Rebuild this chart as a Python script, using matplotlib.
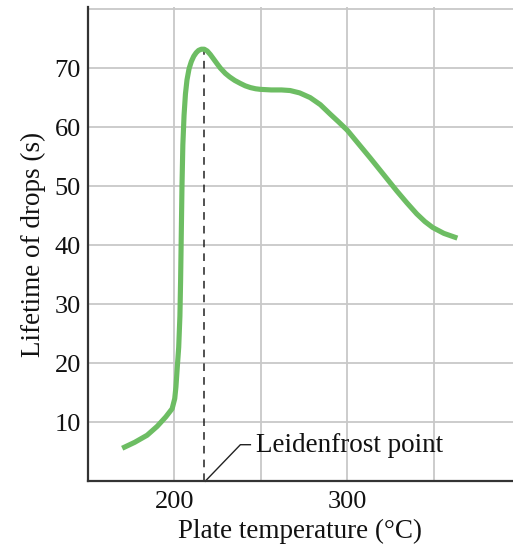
import matplotlib.pyplot as plt

# values
temp = [169.8, 177, 184.2, 190, 195, 198.7, 200.2, 200.9, 201.6, 202.5, 203.2, 203.6,
        204.0, 204.4, 204.9, 205.6, 206.4, 207.3, 208.5, 209.8, 211.2, 212.6, 214.0,
        215.6, 217.3, 219.0, 220.8, 222.8, 224.8, 226.6, 229.5, 232, 235, 238.2, 241,
        244, 247, 249.7, 256, 262, 267, 272.5, 278.6, 284.5, 290.2, 295, 300, 306.5,
        313.3, 321, 328.7, 334.5, 340.3, 345, 349.5, 356, 363.8]
lifetime = [5.6, 6.6, 7.8, 9.3, 10.9, 12.3, 14.0, 16.0, 19.0, 22.7, 28.0, 34.0,
            42.0, 50.0, 57.0, 62.0, 65.6, 68.0, 69.9, 71.1, 72.0, 72.6, 73.0, 73.2,
            73.2, 72.9, 72.3, 71.5, 70.7, 70.0, 69.1, 68.5, 67.9, 67.4, 67.0, 66.7,
            66.5, 66.4, 66.3, 66.3, 66.2, 65.8, 65.0, 63.8, 62.2, 60.9, 59.5, 57.2,
            54.8, 52.0, 49.2, 47.2, 45.3, 44.0, 43.0, 42.0, 41.2]

leiden_x = 217.3
leiden_y = 73.2

x_ticks = [200, 300]
y_ticks = [10, 20, 30, 40, 50, 60, 70]
x_grid = [200, 250, 300, 350]
y_grid = [10, 20, 30, 40, 50, 60, 70, 80]

plt.rcParams['font.family'] = ['Liberation Serif', 'DejaVu Serif']

fig = plt.figure(figsize=(5.13, 5.45), dpi=100)
ax = fig.add_axes([88 / 513, 63.7 / 545, 1 - 88 / 513, 474 / 545])

for gx in x_grid:
    ax.axvline(gx, color='#c8c8c8', lw=1.3, zorder=0)
for gy in y_grid:
    ax.axhline(gy, color='#c8c8c8', lw=1.3, zorder=0)

ax.plot(temp, lifetime, color='#6dbd63', lw=3.7, solid_capstyle='butt',
        solid_joinstyle='round', zorder=3)
ax.plot([leiden_x, leiden_x], [0, leiden_y], color='#222222', lw=1.1,
        dashes=(5, 4), zorder=2)

# leader line to the label
ax.plot([217.8, 238.2, 244], [0, 6.2, 6.2], color='#222222', lw=1.0, zorder=2,
        clip_on=False)
ax.text(247.5, 6.0, 'Leidenfrost point', fontsize=19.5, va='center', ha='left',
        color='#111111')

ax.set_xlim(150, 396)
ax.set_ylim(0, 80.3)
ax.set_xticks(x_ticks)
ax.set_yticks(y_ticks)
ax.tick_params(axis='y', length=0, labelsize=19, pad=5, colors='#111111')
ax.tick_params(axis='x', length=0, labelsize=19, pad=7, colors='#111111')
ax.set_xlabel('Plate temperature (°C)', fontsize=19.5, labelpad=4, color='#111111')
ax.set_ylabel('Lifetime of drops (s)', fontsize=19.5, labelpad=6, color='#111111')

for s in ['top', 'right']:
    ax.spines[s].set_visible(False)
ax.spines['left'].set_color('#333333')
ax.spines['bottom'].set_color('#333333')
ax.spines['left'].set_linewidth(1.6)
ax.spines['bottom'].set_linewidth(1.6)

fig.savefig('out.png', dpi=100)
